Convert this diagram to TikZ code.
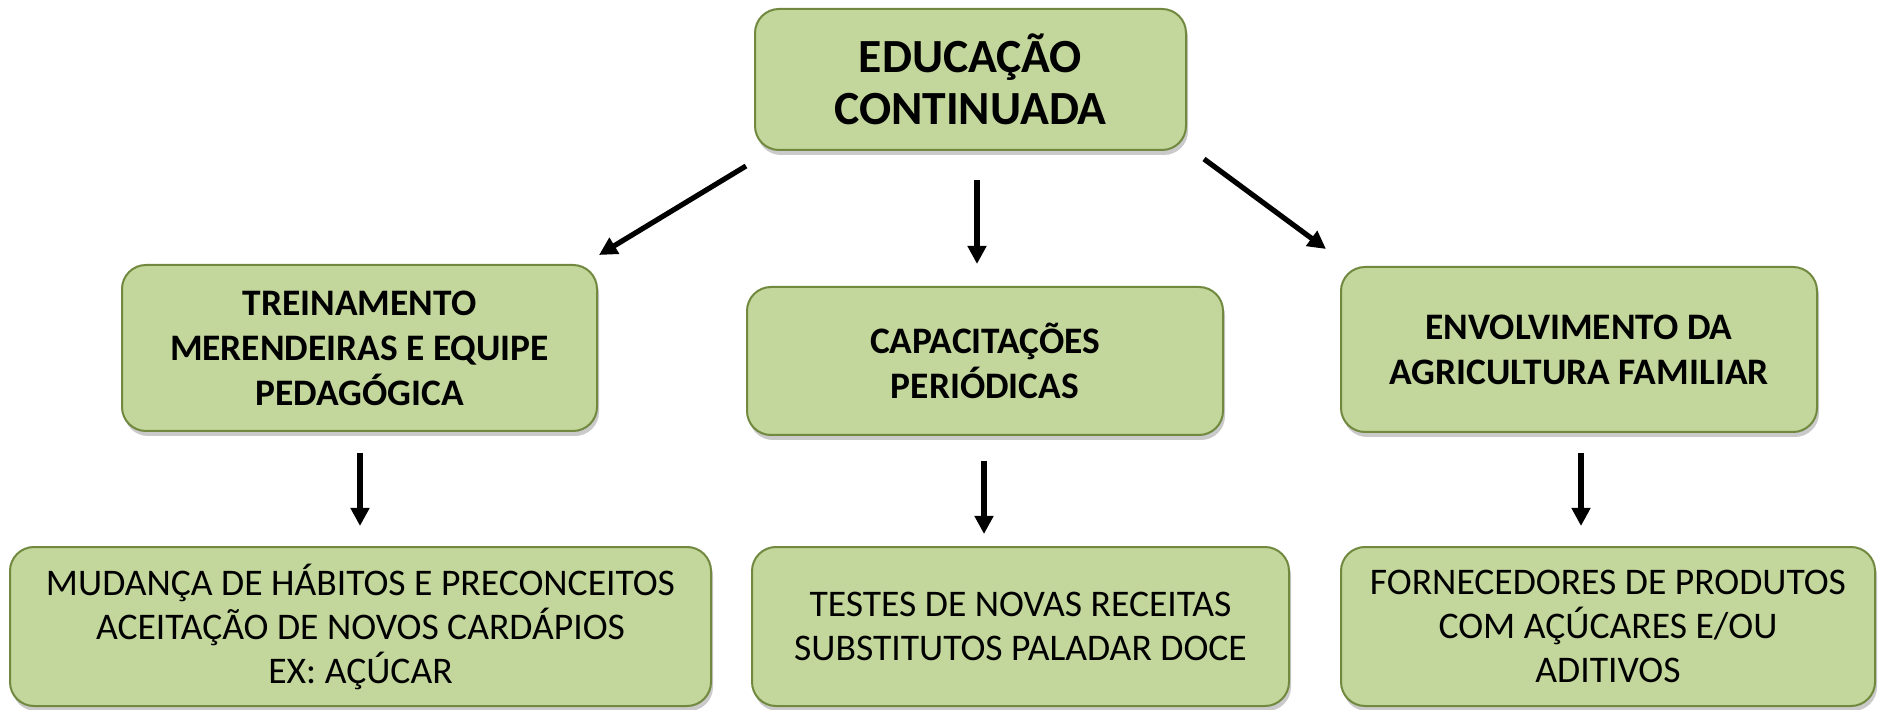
\documentclass[tikz,border=0pt]{standalone}
\usepackage{fontspec}
\setmainfont{Carlito}
\usetikzlibrary{shadows,arrows.meta}
\definecolor{boxfill}{HTML}{C3D69B}
\definecolor{boxdraw}{HTML}{71893F}
\tikzset{
  gbox/.style={draw=boxdraw, fill=boxfill, line width=1pt, rounded corners=12pt,
    align=center, inner sep=0pt,
    drop shadow={shadow xshift=1pt, shadow yshift=-2.5pt, opacity=0.35, fill=black!60}},
  toptext/.style={font=\fontsize{23.8}{26}\selectfont\bfseries},
  midtext/.style={font=\fontsize{18.7}{22.5}\selectfont\bfseries},
  lowtext/.style={font=\fontsize{18.8}{22}\selectfont},
  arr/.style={line width=2.6pt, -{Triangle[length=9pt,width=9pt]}}
}
\begin{document}
\begin{tikzpicture}[x=0.5pt,y=-0.5pt]
\useasboundingbox (0,0) rectangle (1878,710);
\node[gbox, toptext, minimum width=215.5pt, minimum height=70.5pt] (top) at (970.5,79.5) {EDUCAÇÃO\\CONTINUADA};
\node[gbox, midtext, minimum width=237.5pt, minimum height=83pt] (tr) at (359.5,348) {TREINAMENTO\\MERENDEIRAS E EQUIPE\\PEDAGÓGICA};
\node[gbox, midtext, minimum width=238pt, minimum height=74pt] (cap) at (985,361) {CAPACITAÇÕES\\PERIÓDICAS};
\node[gbox, midtext, minimum width=238pt, minimum height=82.5pt] (env) at (1579,349.5) {ENVOLVIMENTO DA\\AGRICULTURA FAMILIAR};
\node[gbox, lowtext, minimum width=350.5pt, minimum height=79.5pt] (mud) at (360.5,626.5) {MUDANÇA DE HÁBITOS E PRECONCEITOS\\ACEITAÇÃO DE NOVOS CARDÁPIOS\\EX: AÇÚCAR};
\node[gbox, lowtext, minimum width=268.5pt, minimum height=79.5pt] (tes) at (1020.5,626.5) {TESTES DE NOVAS RECEITAS\\SUBSTITUTOS PALADAR DOCE};
\node[gbox, lowtext, minimum width=267pt, minimum height=79.5pt] (for) at (1608,626.5) {FORNECEDORES DE PRODUTOS\\COM AÇÚCARES E/OU\\ADITIVOS};
\coordinate (a1s) at (746,166);  \coordinate (a1e) at (599,255);
\coordinate (a2s) at (977,180);  \coordinate (a2e) at (977,264);
\coordinate (a3s) at (1204,159); \coordinate (a3e) at (1326,249);
\coordinate (b1s) at (360,453);  \coordinate (b1e) at (360,526);
\coordinate (b2s) at (984,461);  \coordinate (b2e) at (984,534);
\coordinate (b3s) at (1581,453); \coordinate (b3e) at (1581,526);
\draw[arr] (a1s) -- (a1e);
\draw[arr] (a2s) -- (a2e);
\draw[arr] (a3s) -- (a3e);
\draw[arr] (b1s) -- (b1e);
\draw[arr] (b2s) -- (b2e);
\draw[arr] (b3s) -- (b3e);
\end{tikzpicture}
\end{document}
